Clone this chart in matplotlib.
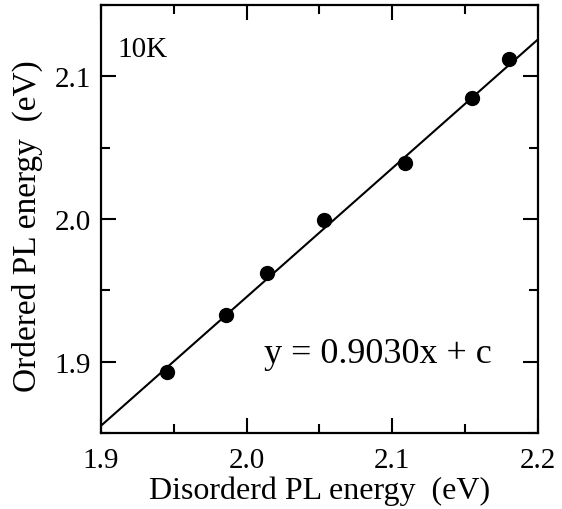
import matplotlib
matplotlib.use("Agg")
import matplotlib.pyplot as plt
import numpy as np
from matplotlib.ticker import MultipleLocator

# data
disordered = [1.945, 1.986, 2.014, 2.053, 2.109, 2.155, 2.180]
ordered = [1.893, 1.933, 1.962, 1.999, 2.039, 2.085, 2.112]
slope = 0.9030
intercept = 0.1394
xticks = [1.9, 2.0, 2.1, 2.2]
yticks = [1.9, 2.0, 2.1]

plt.rcParams['font.family'] = ['Liberation Serif', 'DejaVu Serif']

fig = plt.figure(figsize=(5.62, 5.10), dpi=100)
ax = fig.add_axes([0.1797, 0.149, 0.7776, 0.839])

# fitted line
xf = np.array([1.9, 2.2])
ax.plot(xf, slope * xf + intercept, color="black", lw=1.5)
ax.plot(disordered, ordered, "o", color="black", markersize=10)

ax.set_xlim(1.9, 2.2)
ax.set_ylim(1.85, 2.15)
ax.set_xticks(xticks)
ax.set_xticklabels([f"{v:.1f}" for v in xticks])
ax.set_yticks(yticks)
ax.set_yticklabels([f"{v:.1f}" for v in yticks])
ax.xaxis.set_minor_locator(MultipleLocator(0.05))
ax.yaxis.set_minor_locator(MultipleLocator(0.05))

ax.tick_params(which="both", direction="in", top=True, right=True,
               width=1.5, labelsize=21)
ax.tick_params(which="major", length=10.5)
ax.tick_params(which="minor", length=6.5)
ax.tick_params(axis="x", pad=10)
ax.tick_params(axis="y", pad=7)
for s in ax.spines.values():
    s.set_linewidth(1.6)

ax.set_xlabel("Disorderd PL energy  (eV)", fontsize=23, labelpad=2)
ax.set_ylabel("Ordered PL energy  (eV)", fontsize=24)
ax.yaxis.set_label_coords(-0.132, 0.485)

ax.text(0.037, 0.881, "10K", transform=ax.transAxes, fontsize=21,
        ha="left", va="baseline")
ax.text(0.634, 0.166, "y = 0.9030x + c", transform=ax.transAxes,
        fontsize=26, ha="center", va="baseline")

fig.savefig("out.png", dpi=100)
